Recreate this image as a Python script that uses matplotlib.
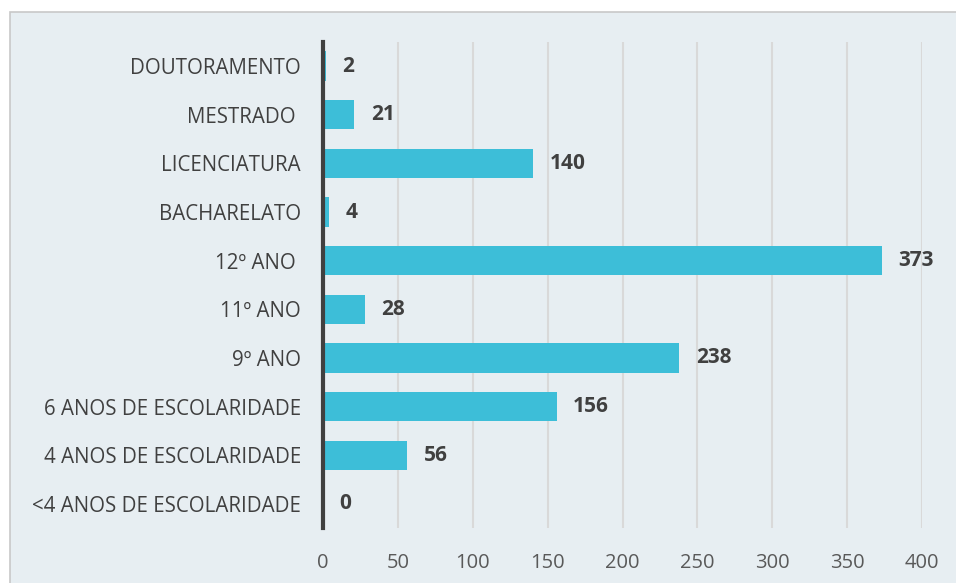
import matplotlib
matplotlib.use("Agg")
import matplotlib.pyplot as plt
from matplotlib.patches import Rectangle

categories = ["DOUTORAMENTO", "MESTRADO ", "LICENCIATURA", "BACHARELATO", "12º ANO ",
              "11º ANO", "9º ANO", "6 ANOS DE ESCOLARIDADE", "4 ANOS DE ESCOLARIDADE",
              "<4 ANOS DE ESCOLARIDADE"]
values = [2, 21, 140, 4, 373, 28, 238, 156, 56, 0]
xticks = [0, 50, 100, 150, 200, 250, 300, 350, 400]

plt.rcParams['font.family'] = ['Open Sans', 'DejaVu Sans']

W, H = 956, 583
fig = plt.figure(figsize=(W/100, H/100), dpi=100)
fig.patch.set_facecolor("white")
bg = "#E7EEF2"
fig.patches.append(Rectangle((10/W, -0.01), 1.0, 1 - 12/H + 0.01, transform=fig.transFigure,
                             facecolor=bg, edgecolor="#C8C8C8", linewidth=1.2, zorder=-5))

ax = fig.add_axes([323/W, 1 - 528.3/H, (922-323)/W, (528.3-41.7)/H])
ax.set_zorder(2)
ax.set_facecolor("none")
ypos = list(range(len(categories)))
ax.barh(ypos, values, height=0.6, color="#3DBED8", zorder=2)
ax.set_ylim(len(categories) - 0.5, -0.5)
ax.set_xlim(0, 400)
ax.set_xticks(xticks)
ax.set_xticklabels([str(t) for t in xticks])
ax.set_yticks(ypos)
ax.set_yticklabels(categories)
ax.tick_params(axis='y', length=0, pad=16, labelsize=14.8, labelcolor="#404040")
ax.tick_params(axis='x', length=0, pad=18, labelsize=14.5, labelcolor="#595959")
ax.grid(axis='x', color="#D9D9D9", linewidth=1.5, zorder=0)
ax.set_axisbelow(True)
for s in ["top", "right", "bottom"]:
    ax.spines[s].set_visible(False)
ax.spines["left"].set_color("#404040")
ax.spines["left"].set_linewidth(3)
ax.spines["left"].set_zorder(3)

for y, v in zip(ypos, values):
    ax.annotate(str(v), (v, y), xytext=(12, 0), textcoords="offset points",
                ha="left", va="center", fontsize=15, fontweight="bold", color="#404040")

fig.savefig("out.png", dpi=100)
